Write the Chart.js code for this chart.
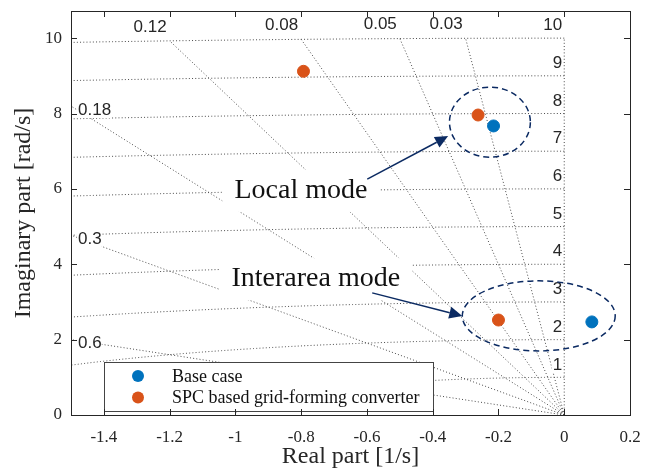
<!DOCTYPE html>
<html>
<head>
<meta charset="utf-8">
<script src="https://cdn.jsdelivr.net/npm/chart.js@4.4.1/dist/chart.umd.min.js"></script>
<style>
  html, body { margin: 0; padding: 0; background: #fff; }
  #wrap { width: 656px; height: 471px; }
</style>
</head>
<body>
<div id="wrap"><canvas id="pzChart" width="656" height="471"></canvas></div>
<script>
// eigenvalues
const baseReal = [-0.215, 0.084];
const baseImag = [7.67, 2.47];
const spcReal = [-0.793, -0.262, -0.200];
const spcImag = [9.12, 7.96, 2.52];

// s-plane grid: damping ratio rays and natural frequency arcs
const zetaTop = [0.12, 0.08, 0.05, 0.03];
const zetaLeft = [0.18, 0.3, 0.6];
const wnValues = [1, 2, 3, 4, 5, 6, 7, 8, 9, 10];

const xTicks = [-1.4, -1.2, -1, -0.8, -0.6, -0.4, -0.2, 0, 0.2];
const yTicks = [0, 2, 4, 6, 8, 10];

const serif = '"Liberation Serif", "Times New Roman", serif';
const sans = '"Liberation Sans", Arial, sans-serif';
const navy = '#0b2a62';
const gridColor = '#4a4a4a';

const wnMax = wnValues[wnValues.length - 1];

function rayEnd(z) {
  return { x: -z * wnMax, y: wnMax * Math.sqrt(1 - z * z) };
}

function arcPoints(wn) {
  const pts = [];
  for (let i = 0; i <= 900; i++) {
    const t = (Math.PI / 2) * i / 900;
    pts.push({ x: -wn * Math.sin(t), y: wn * Math.cos(t) });
  }
  return pts;
}

function gridSet(data) {
  return {
    data: data,
    showLine: true,
    pointRadius: 0,
    borderColor: gridColor,
    borderWidth: 1,
    borderDash: [1, 2.2],
    tension: 0,
    fill: false
  };
}

const datasets = [
  {
    label: 'Base case',
    data: baseReal.map((x, i) => ({ x: x, y: baseImag[i] })),
    backgroundColor: '#0072BD',
    borderColor: '#0072BD',
    pointRadius: 6,
    showLine: false
  },
  {
    label: 'SPC based grid-forming converter',
    data: spcReal.map((x, i) => ({ x: x, y: spcImag[i] })),
    backgroundColor: '#D95319',
    borderColor: '#D95319',
    pointRadius: 6,
    showLine: false
  }
];

[0].concat(zetaTop, zetaLeft).forEach(z => {
  datasets.push(gridSet([{ x: 0, y: 0 }, rayEnd(z)]));
});
wnValues.forEach(wn => datasets.push(gridSet(arcPoints(wn))));

// annotations (data coordinates)
const notes = [
  { text: 'Local mode', x: -1.003, y: 5.76 },
  { text: 'Interarea mode', x: -1.012, y: 3.42 }
];
const ellipses = [
  { cx: -0.226, cy: 7.77, rx: 0.123, ry: 0.93 },
  { cx: -0.0775, cy: 2.63, rx: 0.2325, ry: 0.93 }
];
const arrows = [
  { x0: -0.599, y0: 6.26, x1: -0.353, y1: 7.40 },
  { x0: -0.584, y0: 3.24, x1: -0.310, y1: 2.63 }
];

function whiteText(ctx, text, x, y, align) {
  const w = ctx.measureText(text).width;
  const left = align === 'right' ? x - w : x;
  ctx.fillStyle = '#fff';
  ctx.fillRect(left - 1, y - 8, w + 1, 16);
  ctx.fillStyle = '#262626';
  ctx.textAlign = align;
  ctx.fillText(text, x, y);
}

const overlay = {
  id: 'overlay',
  afterDatasetsDraw(chart) {
    const ctx = chart.ctx;
    const xs = chart.scales.x, ys = chart.scales.y;
    const area = chart.chartArea;
    const X = v => xs.getPixelForValue(v);
    const Y = v => ys.getPixelForValue(v);
    ctx.save();

    // grid labels
    ctx.font = '17px ' + sans;
    ctx.textBaseline = 'middle';
    zetaTop.forEach(z => {
      const e = rayEnd(z);
      whiteText(ctx, String(z), X(e.x) - 3, Y(e.y) - 14, 'right');
    });
    zetaLeft.forEach(z => {
      const yv = -xs.min * Math.sqrt(1 - z * z) / z;
      whiteText(ctx, String(z), area.left + 7, Y(yv) + 4, 'left');
    });
    wnValues.forEach(wn => {
      whiteText(ctx, String(wn), X(0) - 2, Y(wn) - 12.5, 'right');
    });

    // mode text with white boxes
    ctx.font = '28px ' + serif;
    ctx.textBaseline = 'alphabetic';
    notes.forEach(n => {
      const x = X(n.x), y = Y(n.y);
      const w = ctx.measureText(n.text).width;
      ctx.fillStyle = '#fff';
      ctx.fillRect(x - 12, y - 28, w + 24, 42);
      ctx.fillStyle = '#111';
      ctx.textAlign = 'left';
      ctx.fillText(n.text, x, y);
    });

    // dashed ellipses
    ctx.strokeStyle = navy;
    ctx.lineWidth = 1.5;
    ctx.setLineDash([6, 4]);
    ellipses.forEach(e => {
      const cx = X(e.cx), cy = Y(e.cy);
      const rx = X(e.cx + e.rx) - cx, ry = cy - Y(e.cy + e.ry);
      ctx.beginPath();
      ctx.ellipse(cx, cy, rx, ry, 0, 0, Math.PI * 2);
      ctx.stroke();
    });
    ctx.setLineDash([]);

    // arrows
    arrows.forEach(a => {
      const x0 = X(a.x0), y0 = Y(a.y0), x1 = X(a.x1), y1 = Y(a.y1);
      const ang = Math.atan2(y1 - y0, x1 - x0);
      const hl = 13, hw = 6;
      const bx = x1 - hl * Math.cos(ang), by = y1 - hl * Math.sin(ang);
      ctx.beginPath();
      ctx.moveTo(x0, y0);
      ctx.lineTo(bx, by);
      ctx.stroke();
      ctx.fillStyle = navy;
      ctx.beginPath();
      ctx.moveTo(x1, y1);
      ctx.lineTo(bx - hw * Math.sin(ang), by + hw * Math.cos(ang));
      ctx.lineTo(bx + hw * Math.sin(ang), by - hw * Math.cos(ang));
      ctx.closePath();
      ctx.fill();
    });

    // legend
    const lg = { left: 104, top: 362, right: 433, bottom: 411 };
    ctx.fillStyle = '#fff';
    ctx.fillRect(lg.left, lg.top, lg.right - lg.left, lg.bottom - lg.top);
    ctx.strokeStyle = '#444';
    ctx.lineWidth = 1;
    ctx.strokeRect(lg.left + 0.5, lg.top + 0.5, lg.right - lg.left, lg.bottom - lg.top);
    ctx.font = '18px ' + serif;
    ctx.textBaseline = 'middle';
    ctx.textAlign = 'left';
    [0, 1].forEach(i => {
      const ds = chart.data.datasets[i];
      const yy = lg.top + 14 + i * 21.5;
      ctx.fillStyle = ds.backgroundColor;
      ctx.beginPath();
      ctx.arc(lg.left + 34, yy, 6, 0, Math.PI * 2);
      ctx.fill();
      ctx.fillStyle = '#111';
      ctx.fillText(ds.label, lg.left + 68, yy + 1);
    });

    // box and inward ticks
    ctx.strokeStyle = '#262626';
    ctx.lineWidth = 1;
    ctx.beginPath();
    xTicks.forEach(v => {
      const x = Math.round(X(v)) + 0.5;
      ctx.moveTo(x, area.bottom); ctx.lineTo(x, area.bottom - 6);
      ctx.moveTo(x, area.top); ctx.lineTo(x, area.top + 6);
    });
    yTicks.forEach(v => {
      const y = Math.round(Y(v)) + 0.5;
      ctx.moveTo(area.left, y); ctx.lineTo(area.left + 6, y);
      ctx.moveTo(area.right, y); ctx.lineTo(area.right - 6, y);
    });
    ctx.stroke();
    ctx.strokeRect(Math.round(area.left) + 0.5, Math.round(area.top) + 0.5,
      Math.round(area.right - area.left), Math.round(area.bottom - area.top));
    ctx.restore();
  }
};

new Chart(document.getElementById('pzChart').getContext('2d'), {
  type: 'scatter',
  data: { datasets: datasets },
  options: {
    responsive: false,
    animation: false,
    events: [],
    layout: { padding: { top: 11, right: 26, left: 0, bottom: 0 } },
    plugins: {
      legend: { display: false },
      tooltip: { enabled: false }
    },
    scales: {
      x: {
        type: 'linear',
        min: -1.5,
        max: 0.2,
        afterBuildTicks: s => { s.ticks = xTicks.map(v => ({ value: v })); },
        afterFit: s => { s.height = 56; s.paddingLeft = 0; s.paddingRight = 0; },
        grid: { display: false, drawTicks: false },
        border: { display: false },
        ticks: {
          padding: 12,
          color: '#262626',
          font: { family: serif, size: 17 },
          callback: v => String(v),
          maxRotation: 0
        },
        title: {
          display: true,
          text: 'Real part [1/s]',
          color: '#262626',
          font: { family: serif, size: 24 },
          padding: { top: 0, bottom: 0 }
        }
      },
      y: {
        type: 'linear',
        min: 0,
        max: 10.72,
        afterBuildTicks: s => { s.ticks = yTicks.map(v => ({ value: v })); },
        afterFit: s => { s.width = 71; s.paddingTop = 0; s.paddingBottom = 0; },
        grid: { display: false, drawTicks: false },
        border: { display: false },
        ticks: {
          padding: 9,
          color: '#262626',
          font: { family: serif, size: 17 },
          callback: v => String(v)
        },
        title: {
          display: true,
          text: 'Imaginary part [rad/s]',
          color: '#262626',
          font: { family: serif, size: 24 },
          padding: { top: 9, bottom: 0 }
        }
      }
    }
  },
  plugins: [overlay]
});
</script>
</body>
</html>
